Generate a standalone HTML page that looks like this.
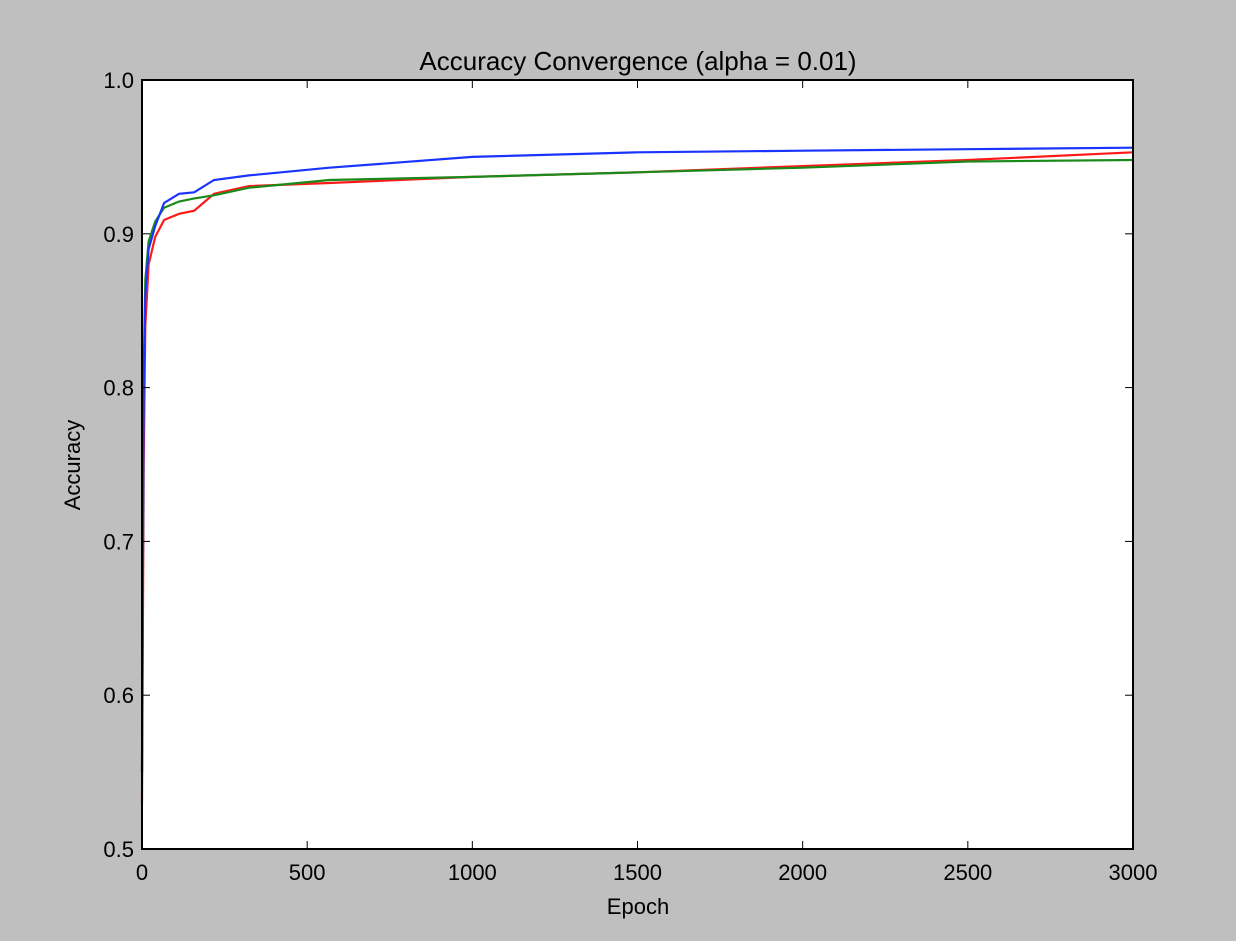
<!DOCTYPE html>
<html><head><meta charset="utf-8"><style>
body{margin:0;background:#bfbfbf;width:1236px;height:936px;overflow:hidden;font-family:"Liberation Sans",sans-serif}
</style></head><body>
<svg id="chart" width="1236" height="936" xmlns="http://www.w3.org/2000/svg">
<rect x="0" y="0" width="1236" height="936" fill="#bfbfbf"/>
<rect x="142" y="80" width="991" height="769" fill="#fff"/>
<g id="series"></g>
<g id="ticks"></g>
<rect x="142" y="80" width="991" height="769" fill="none" stroke="#000" stroke-width="2"/>
<text x="638" y="70" font-size="26" text-anchor="middle">Accuracy Convergence (alpha = 0.01)</text>
<text x="638" y="914" font-size="22" text-anchor="middle">Epoch</text>
<text x="80" y="465" font-size="22" text-anchor="middle" transform="rotate(-90 80 465)">Accuracy</text>
</svg>
<script>
const epochs=[0,5,10,20,40,67,112,158,218,324,567,1000,1500,2000,2500,3000];
const blueVals=[0.55,0.80,0.86,0.89,0.905,0.92,0.926,0.927,0.935,0.938,0.943,0.950,0.953,0.954,0.955,0.956];
const greenVals=[0.55,0.81,0.87,0.895,0.908,0.917,0.921,0.923,0.925,0.930,0.935,0.937,0.940,0.943,0.947,0.948];
const redVals=[0.53,0.75,0.84,0.88,0.898,0.909,0.913,0.915,0.926,0.931,0.933,0.937,0.940,0.944,0.948,0.953];
const xTicks=[0,500,1000,1500,2000,2500,3000];
const yTicks=[0.5,0.6,0.7,0.8,0.9,1.0];
const X0=142,X1=1133,Y0=849,Y1=80;
const sx=v=>X0+(v/3000)*(X1-X0);
const sy=v=>Y0-(v-0.5)/0.5*(Y0-Y1);
const NS="http://www.w3.org/2000/svg";
const sg=document.getElementById('series');
[[redVals,'#ff1a1a','series-red'],[greenVals,'#1a8a1a','series-green'],[blueVals,'#1a33ff','series-blue']].forEach(([vals,col,nm])=>{
 const p=document.createElementNS(NS,'polyline');
 p.setAttribute('points',epochs.map((e,i)=>sx(e).toFixed(1)+','+sy(vals[i]).toFixed(1)).join(' '));
 p.setAttribute('fill','none');p.setAttribute('stroke',col);p.setAttribute('stroke-width','2.2');
 
 
 sg.appendChild(p);
});
const tg=document.getElementById('ticks');
function add(tag,attrs,txt){const e=document.createElementNS(NS,tag);for(const k in attrs)e.setAttribute(k,attrs[k]);if(txt!==undefined)e.textContent=txt;tg.appendChild(e);return e;}
xTicks.forEach(t=>{
 const x=sx(t);
 const a=add('line',{x1:x,x2:x,y1:Y0,y2:Y0-8,stroke:'#000','stroke-width':1});
 
 
 const b=add('line',{x1:x,x2:x,y1:Y1,y2:Y1+8,stroke:'#000','stroke-width':1});
 
 
 const l=add('text',{x:x,y:880,'font-size':22,'text-anchor':'middle'},String(t));
 
 
});
yTicks.forEach(t=>{
 const y=sy(t);
 const a=add('line',{x1:X0,x2:X0+8,y1:y,y2:y,stroke:'#000','stroke-width':1});
 
 
 const b=add('line',{x1:X1,x2:X1-8,y1:y,y2:y,stroke:'#000','stroke-width':1});
 
 
 const l=add('text',{x:134,y:y+8,'font-size':22,'text-anchor':'end'},t.toFixed(1));
 
 
});
</script>
</body></html>
